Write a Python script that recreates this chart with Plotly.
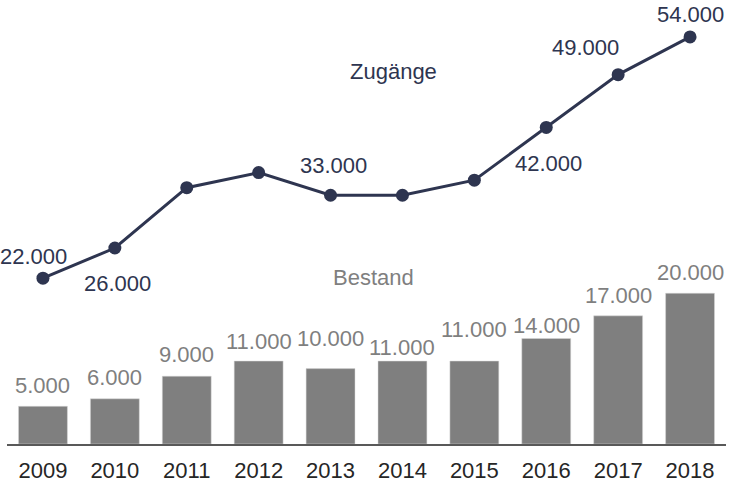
import plotly.graph_objects as go

years = ["2009", "2010", "2011", "2012", "2013", "2014", "2015", "2016", "2017", "2018"]
bestand = [5000, 6000, 9000, 11000, 10000, 11000, 11000, 14000, 17000, 20000]
zugaenge = [22000, 26000, 34000, 36000, 33000, 33000, 35000, 42000, 49000, 54000]
zugaenge_labelled = [True, True, False, False, True, False, False, True, True, True]

NAVY = "#2e3550"
GRAY = "#7f7f7f"
FONT = "Liberation Sans, Arial, sans-serif"
SIZE = 22

# label offsets (pixels) picked to keep labels clear of the line and of each other
bar_label_shift = [21, 21, 22, 20, 30, 14, 32, 13, 20, 21]
line_label_shift = [(-9, 22), (3, -35), None, None, (3, 30), None, None, (2, -36), (-33, 27), (0, 22)]


def fmt(v):
    return f"{v:,}".replace(",", ".")


fig = go.Figure()

fig.add_trace(
    go.Bar(
        x=years,
        y=bestand,
        name="Bestand",
        marker=dict(color=GRAY, line=dict(color="#d9d9d9", width=0.5)),
    )
)

fig.add_trace(
    go.Scatter(
        x=years,
        y=zugaenge,
        name="Zugänge",
        mode="lines+markers",
        line=dict(color=NAVY, width=3),
        marker=dict(color=NAVY, size=13),
        cliponaxis=False,
    )
)

# on a category axis, annotations take the category's serial number
annotations = []
for i, (v, dy) in enumerate(zip(bestand, bar_label_shift)):
    annotations.append(dict(
        x=i, y=v, text=fmt(v), showarrow=False, yanchor="middle",
        yshift=dy, font=dict(color=GRAY, size=SIZE, family=FONT),
    ))

for i, (v, show, shift) in enumerate(zip(zugaenge, zugaenge_labelled, line_label_shift)):
    if not show:
        continue
    annotations.append(dict(
        x=i, y=v, text=fmt(v), showarrow=False, yanchor="middle",
        xshift=shift[0], yshift=shift[1], font=dict(color=NAVY, size=SIZE, family=FONT),
    ))

annotations.append(dict(
    xref="paper", yref="paper", x=0.538, y=0.838, xanchor="center", yanchor="middle",
    text="Zugänge", showarrow=False, font=dict(color=NAVY, size=SIZE, family=FONT),
))
annotations.append(dict(
    xref="paper", yref="paper", x=0.510, y=0.376, xanchor="center", yanchor="middle",
    text="Bestand", showarrow=False, font=dict(color=GRAY, size=SIZE, family=FONT),
))

fig.update_xaxes(
    type="category",
    range=[-0.5, len(years) - 0.5],
    automargin=False,
    showline=True,
    linecolor="#595959",
    linewidth=2,
    showgrid=False,
    ticks="",
    ticklabelstandoff=6,
    tickfont=dict(color="#262626", size=SIZE, family=FONT),
)
fig.update_yaxes(range=[0, 58900], visible=False, showgrid=False, automargin=False)

fig.update_layout(
    width=736,
    height=482,
    showlegend=False,
    bargap=0.32,
    plot_bgcolor="white",
    paper_bgcolor="white",
    margin=dict(l=7, r=10, t=0, b=38),
    annotations=annotations,
)

# drop the browser's default body margin so the figure sits at the window's corner
fig.write_html(
    "out.html",
    config={"displayModeBar": False},
    post_script="document.body.style.margin='0';",
)
